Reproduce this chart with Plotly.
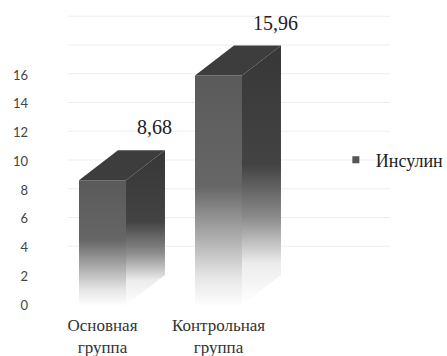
import plotly.graph_objects as go

# Insulin level by group
categories = ["Основная<br>группа", "Контрольная<br>группа"]
values = [8.68, 15.96]
value_labels = ["8,68", "15,96"]
series_name = "Инсулин"
y_ticks = [0, 2, 4, 6, 8, 10, 12, 14, 16]
wall_grid = [2, 4, 6, 8, 10, 12, 14, 16, 18]

SERIF = "Liberation Serif"

# pseudo-3D geometry in axis units
HALF_W = 0.2026     # half width of the front face
DEPTH_X = 0.336     # depth offset along x
DEPTH_Y = 2.087     # depth offset along y
X_MIN, X_MAX = -0.6336, 2.4784
Y_MAX = 20.38

FRONT_SCALE = [[0, "#fdfdfd"], [0.12, "#e6e6e6"], [0.32, "#a5a5a5"],
               [0.52, "#666666"], [1, "#5a5a5a"]]
SIDE_SCALE = [[0, "#ffffff"], [0.16, "#ececec"], [0.34, "#8a8a8a"],
              [0.54, "#434343"], [1, "#373737"]]
TOP_COLOR = "#3d3d3d"

fig = go.Figure()

# faint gridlines on the back wall
gx, gy = [], []
for t in wall_grid:
    gx += [X_MIN + DEPTH_X, X_MAX, None]
    gy += [t + DEPTH_Y, t + DEPTH_Y, None]
fig.add_trace(go.Scatter(x=gx, y=gy, mode="lines",
                         line=dict(color="#eeeeee", width=1),
                         hoverinfo="skip", showlegend=False))

for i, v in enumerate(values):
    xl, xr = i - HALF_W, i + HALF_W
    # front face
    fig.add_trace(go.Scatter(
        x=[xl, xr, xr, xl, xl], y=[0, 0, v, v, 0],
        fill="toself", mode="none",
        fillgradient=dict(type="vertical", colorscale=FRONT_SCALE, start=0, stop=v),
        hoverinfo="skip", showlegend=False))
    # side face
    fig.add_trace(go.Scatter(
        x=[xr, xr + DEPTH_X, xr + DEPTH_X, xr, xr],
        y=[0, DEPTH_Y, v + DEPTH_Y, v, 0],
        fill="toself", mode="none",
        fillgradient=dict(type="vertical", colorscale=SIDE_SCALE, start=0, stop=v + DEPTH_Y),
        hoverinfo="skip", showlegend=False))
    # top face
    fig.add_trace(go.Scatter(
        x=[xl, xr, xr + DEPTH_X, xl + DEPTH_X, xl],
        y=[v, v, v + DEPTH_Y, v + DEPTH_Y, v],
        fill="toself", mode="none", fillcolor=TOP_COLOR,
        hoverinfo="skip", showlegend=False))
    # value label
    fig.add_annotation(x=xl + 0.483, y=v + DEPTH_Y, text=value_labels[i],
                       xanchor="left", yanchor="bottom", yshift=10, showarrow=False,
                       font=dict(family=SERIF, size=20, color="#222222"))

# legend entry
fig.add_trace(go.Scatter(x=[None], y=[None], mode="markers", name=series_name,
                         marker=dict(symbol="square", size=7, color="#555555")))

fig.update_layout(
    width=447, height=356,
    margin=dict(l=29, r=57, t=12, b=51, autoexpand=False),
    paper_bgcolor="white", plot_bgcolor="white",
    showlegend=True,
    legend=dict(x=0.85, y=0.495, xanchor="left", yanchor="middle",
                font=dict(family=SERIF, size=18, color="#222222"),
                bgcolor="rgba(0,0,0,0)"),
    xaxis=dict(range=[X_MIN, X_MAX], tickvals=[0, 1], ticktext=categories,
               showgrid=False, zeroline=False, showline=False, ticks="",
               automargin=False, ticklabelstandoff=8,
               tickfont=dict(family=SERIF, size=17, color="#333333")),
    yaxis=dict(range=[0, Y_MAX], tickvals=y_ticks,
               showgrid=False, zeroline=False, showline=False, ticks="",
               automargin=False,
               tickfont=dict(family="Lato", size=13, color="#444444")),
)

fig.write_html("out.html")
